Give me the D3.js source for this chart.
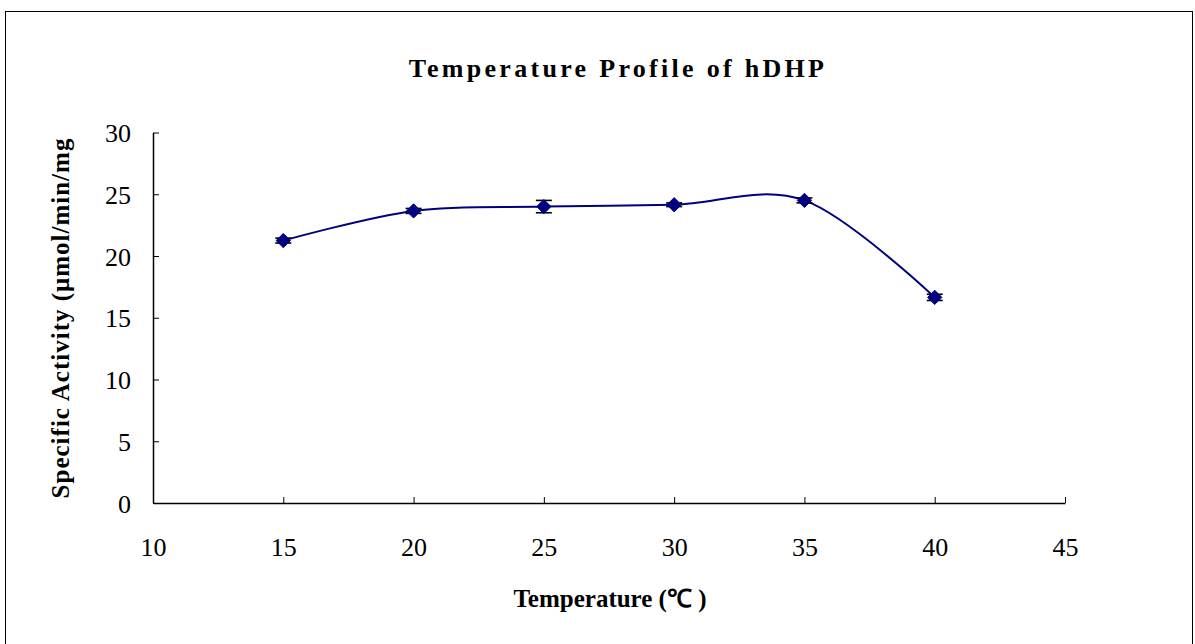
<!DOCTYPE html>
<html>
<head>
<meta charset="utf-8">
<script src="https://cdn.jsdelivr.net/npm/d3@7"></script>
<style>
  html, body { margin: 0; padding: 0; background: #fff; }
  svg { display: block; }
  text { font-family: "Liberation Serif", "Times New Roman", serif; fill: #000; }
</style>
</head>
<body>
<svg id="chart" width="1195" height="644"></svg>
<script>
// Temperature (°C) and measured specific activity with standard deviation
const temperatures = [15, 20, 25, 30, 35, 40];
const activity = [21.25, 23.65, 24.0, 24.15, 24.5, 16.65];
const activityErr = [0.2, 0.2, 0.5, 0.15, 0.2, 0.25];
const xTicks = [10, 15, 20, 25, 30, 35, 40, 45];
const yTicks = [0, 5, 10, 15, 20, 25, 30];

const svg = d3.select("#chart");

// outer chart frame
svg.append("rect")
  .attr("x", 5.5).attr("y", 11.5)
  .attr("width", 1187).attr("height", 660)
  .attr("fill", "none").attr("stroke", "#000").attr("stroke-width", 1);

const x = d3.scaleLinear().domain([10, 45]).range([153, 1065]);
const y = d3.scaleLinear().domain([0, 30]).range([503, 132.5]);

// axes: x ticks point up from the baseline, y ticks point right
const xAxis = d3.axisBottom(x).tickValues(xTicks).tickSizeInner(-6).tickSizeOuter(0);
const yAxis = d3.axisLeft(y).tickValues(yTicks).tickSizeInner(-6).tickSizeOuter(0);

const gx = svg.append("g").attr("transform", `translate(0,${y(0)})`).call(xAxis);
const gy = svg.append("g").attr("transform", `translate(${x(10)},0)`).call(yAxis);

[gx, gy].forEach(g => {
  g.attr("font-size", null).attr("font-family", null);
  g.select(".domain").attr("stroke", "#000").attr("stroke-width", 1.5);
  g.selectAll(".tick line").attr("stroke", "#000").attr("stroke-width", 1);
  g.selectAll(".tick text")
    .style("font-family", "'Liberation Serif', serif")
    .style("font-size", "26px")
    .attr("fill", "#000");
});
gx.selectAll(".tick text").attr("y", 35).attr("dy", "0.71em");
gy.selectAll(".tick text").attr("x", -22).attr("dy", "0.35em");

// smoothed series line
const pts = temperatures.map((t, i) => [t, activity[i]]);
const line = d3.line()
  .x(d => x(d[0]))
  .y(d => y(d[1]))
  .curve(d3.curveCardinal.tension(0));

svg.append("path")
  .datum(pts)
  .attr("d", line)
  .attr("fill", "none")
  .attr("stroke", "#000080")
  .attr("stroke-width", 2);

// error bars
const eb = svg.append("g").attr("stroke", "#000").attr("stroke-width", 1.6);
temperatures.forEach((t, i) => {
  const cx = x(t);
  const top = y(activity[i] + activityErr[i]);
  const bot = y(activity[i] - activityErr[i]);
  eb.append("line").attr("x1", cx).attr("x2", cx).attr("y1", top).attr("y2", bot);
  eb.append("line").attr("x1", cx - 8).attr("x2", cx + 8).attr("y1", top).attr("y2", top);
  eb.append("line").attr("x1", cx - 8).attr("x2", cx + 8).attr("y1", bot).attr("y2", bot);
});

// diamond markers
const diamond = d3.symbol().type(d3.symbolDiamond2).size(130);
svg.append("g").selectAll("path")
  .data(pts)
  .join("path")
  .attr("transform", d => `translate(${x(d[0])},${y(d[1])})`)
  .attr("d", diamond)
  .attr("fill", "#000080")
  .attr("stroke", "#000080")
  .attr("stroke-width", 1);

// title
svg.append("text")
  .attr("x", 618).attr("y", 77)
  .attr("text-anchor", "middle")
  .style("font-size", "26px")
  .style("letter-spacing", "3.3px")
  .attr("font-weight", "bold")
  .text("Temperature Profile of hDHP");

// axis titles
svg.append("text")
  .attr("x", 610).attr("y", 607)
  .attr("text-anchor", "middle")
  .style("font-size", "25px")
  .attr("font-weight", "bold")
  .text("Temperature (℃ )");

svg.append("text")
  .attr("transform", "translate(69,318) rotate(-90)")
  .attr("text-anchor", "middle")
  .style("font-size", "25px")
  .style("letter-spacing", "1px")
  .attr("font-weight", "bold")
  .text("Specific Activity (μmol/min/mg");
</script>
</body>
</html>
